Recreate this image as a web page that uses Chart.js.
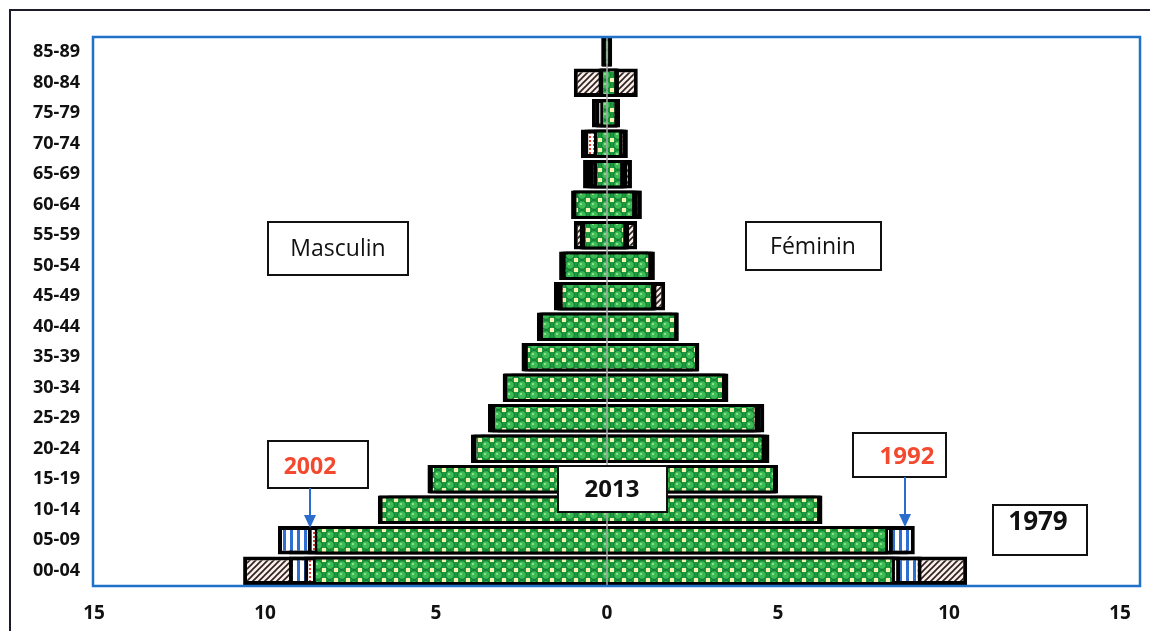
<!DOCTYPE html>
<html>
<head>
<meta charset="utf-8">
<script src="https://cdn.jsdelivr.net/npm/chart.js@4.4.1/dist/chart.umd.min.js"></script>
<style>
  html, body { margin: 0; padding: 0; background: #ffffff; }
  #wrap { width: 1150px; height: 631px; position: relative; }
</style>
</head>
<body>
<div id="wrap"><canvas id="c" width="1150" height="631"></canvas></div>
<script>
// ---------- DATA ----------
const ageGroups = ['85-89','80-84','75-79','70-74','65-69','60-64','55-59','50-54','45-49',
                   '40-44','35-39','30-34','25-29','20-24','15-19','10-14','05-09','00-04'];

const male2013   = [0.12, 0.20, 0.20, 0.38, 0.38, 0.98, 0.72, 1.29, 1.38, 1.96, 2.40, 3.00, 3.35, 3.90, 5.18, 6.65, 8.55, 8.60];
const female2013 = [0.12, 0.30, 0.30, 0.44, 0.47, 0.82, 0.56, 1.29, 1.37, 2.05, 2.66, 3.45, 4.40, 4.60, 4.94, 6.23, 8.22, 8.42];

const male2002   = [0.15, 0.22, 0.34, 0.66, 0.50, 1.00, 0.75, 1.35, 1.47, 2.00, 2.45, 3.02, 3.42, 3.94, 5.20, 6.67, 8.75, 8.85];
const female2002 = [0.14, 0.32, 0.34, 0.56, 0.52, 0.90, 0.60, 1.35, 1.42, 2.08, 2.68, 3.50, 4.50, 4.68, 4.97, 6.26, 8.36, 8.57];

const male1992   = [0.17, 0.25, 0.44, 0.76, 0.60, 1.00, 0.80, 1.40, 1.55, 2.05, 2.50, 3.05, 3.48, 3.98, 5.25, 6.70, 9.62, 9.30];
const female1992 = [0.15, 0.35, 0.38, 0.61, 0.60, 1.00, 0.65, 1.40, 1.45, 2.10, 2.70, 3.55, 4.60, 4.75, 5.00, 6.30, 9.00, 9.20];

const male1979   = [0.15, 0.97, 0.30, 0.56, 0.70, 1.05, 0.97, 1.20, 1.45, 1.90, 2.30, 2.80, 3.20, 3.70, 5.00, 6.40, 9.30, 10.64];
const female1979 = [0.15, 0.90, 0.30, 0.50, 0.73, 1.02, 0.88, 1.20, 1.70, 1.90, 2.50, 3.30, 4.30, 4.50, 4.80, 6.10, 8.80, 10.53];

const xTicks = [-15, -10, -5, 0, 5, 10, 15];

// ---------- PATTERNS ----------
function makePattern(w, h, draw) {
  const c = document.createElement('canvas');
  c.width = w; c.height = h;
  const g = c.getContext('2d');
  draw(g, w, h);
  return document.getElementById('c').getContext('2d').createPattern(c, 'repeat');
}
const patGreen = makePattern(12, 10, (g, w, h) => {
  g.fillStyle = '#1c9a40'; g.fillRect(0, 0, w, h);
  g.fillStyle = '#f6f1ae';
  [[-2, -2], [w - 2, -2], [-2, h - 2], [w - 2, h - 2]].forEach(p => g.fillRect(p[0], p[1], 4, 4));
  g.beginPath(); g.arc(6, 5, 4.3, 0, Math.PI * 2);
  g.fillStyle = '#3cbc55'; g.fill();
  g.lineWidth = 0.9; g.strokeStyle = '#0f7330'; g.stroke();
  g.fillStyle = '#8ee08a'; g.fillRect(4, 3, 2, 2);
});
const patHatch = makePattern(6, 6, (g, w, h) => {
  g.fillStyle = '#fbeee9'; g.fillRect(0, 0, w, h);
  g.strokeStyle = '#2a2020'; g.lineWidth = 1.6;
  g.beginPath();
  g.moveTo(-1, 7); g.lineTo(7, -1);
  g.moveTo(-4, 4); g.lineTo(4, -4);
  g.moveTo(2, 10); g.lineTo(10, 2);
  g.stroke();
});
const patBlue = makePattern(7, 4, (g, w, h) => {
  g.fillStyle = '#ffffff'; g.fillRect(0, 0, w, h);
  g.fillStyle = '#2f6fd2'; g.fillRect(3, 0, 3, h);
});
const patRed = makePattern(4, 4, (g, w, h) => {
  g.fillStyle = '#ffffff'; g.fillRect(0, 0, w, h);
  g.fillStyle = '#e8402a'; g.fillRect(1, 0, 2, 2);
});

function pairs(m, f) { return m.map((v, i) => [-v, f[i]]); }

// ---------- DECORATION PLUGIN ----------
const deco = {
  id: 'deco',
  afterDatasetsDraw(chart) {
    const ctx = chart.ctx, x = chart.scales.x, a = chart.chartArea;
    const x0 = x.getPixelForValue(0);
    ctx.save();
    ctx.strokeStyle = '#a8a8a8'; ctx.lineWidth = 1.5;
    ctx.beginPath(); ctx.moveTo(x0, a.top); ctx.lineTo(x0, a.bottom); ctx.stroke();
    ctx.restore();
  },
  afterDraw(chart) {
    const ctx = chart.ctx, a = chart.chartArea;
    ctx.save();
    ctx.strokeStyle = '#1b1b2a'; ctx.lineWidth = 2;
    ctx.beginPath(); ctx.moveTo(10, 631); ctx.lineTo(10, 10); ctx.lineTo(1150, 10); ctx.stroke();
    ctx.strokeStyle = '#1f72c8'; ctx.lineWidth = 2.5;
    ctx.strokeRect(a.left - 1, a.top, (a.right + 20) - (a.left - 1), a.bottom - a.top);

    function box(x1, y1, x2, y2, text, font, color, tx, ty) {
      ctx.fillStyle = '#ffffff';
      ctx.fillRect(x1, y1, x2 - x1, y2 - y1);
      ctx.strokeStyle = '#111111'; ctx.lineWidth = 2;
      ctx.strokeRect(x1, y1, x2 - x1, y2 - y1);
      ctx.fillStyle = color; ctx.font = font;
      ctx.textAlign = 'center'; ctx.textBaseline = 'middle';
      ctx.fillText(text, tx, ty);
    }
    function arrow(xx, y1, y2) {
      ctx.strokeStyle = '#2a6dcc'; ctx.fillStyle = '#2a6dcc'; ctx.lineWidth = 2;
      ctx.beginPath(); ctx.moveTo(xx, y1); ctx.lineTo(xx, y2 - 12); ctx.stroke();
      ctx.beginPath(); ctx.moveTo(xx - 6, y2 - 13); ctx.lineTo(xx + 6, y2 - 13); ctx.lineTo(xx, y2); ctx.closePath(); ctx.fill();
    }
    box(268, 222, 408, 275, 'Masculin', '23px "Open Sans"', '#111111', 338, 249);
    box(746, 222, 881, 270, 'Féminin', '23px "Open Sans"', '#111111', 813, 247);
    box(558, 466, 667, 512, '2013', 'bold 24px "Open Sans"', '#111111', 612, 490);
    box(268, 441, 368, 488, '2002', 'bold 23px "Open Sans"', '#f2492f', 310, 467);
    box(853, 433, 946, 477, '1992', 'bold 24px "Open Sans"', '#f2492f', 907, 457);
    box(993, 505, 1087, 555, '1979', 'bold 26px "Open Sans"', '#111111', 1038, 523);
    arrow(310, 488, 528);
    arrow(905, 477, 527);
    ctx.restore();
  }
};

function ds(label, data, bg, bw) {
  return { label, data, backgroundColor: bg, borderColor: '#000000', borderWidth: bw, borderSkipped: false,
           barPercentage: 0.93, categoryPercentage: 1.0, grouped: false };
}

new Chart(document.getElementById('c'), {
  type: 'bar',
  data: {
    labels: ageGroups,
    datasets: [
      ds('2013', pairs(male2013, female2013), patGreen, 3),
      ds('2002', pairs(male2002, female2002), patRed, 4),
      ds('1992', pairs(male1992, female1992), patBlue, 4),
      ds('1979', pairs(male1979, female1979), patHatch, 4)
    ]
  },
  options: {
    indexAxis: 'y',
    responsive: false,
    animation: false,
    devicePixelRatio: 1,
    layout: { padding: { left: 10, right: 30, top: 37, bottom: 0 } },
    plugins: { legend: { display: false }, tooltip: { enabled: false } },
    scales: {
      x: {
        type: 'linear', min: -15, max: 15,
        afterBuildTicks(s) { s.ticks = xTicks.map(v => ({ value: v })); },
        afterFit(s) { s.height = 45; },
        grid: { display: false, drawTicks: false },
        border: { display: false },
        ticks: { padding: 16, color: '#111111', font: { family: 'Open Sans', size: 19, weight: 'bold' },
                 callback: v => String(Math.abs(v)) }
      },
      y: {
        afterFit(s) { s.width = 84; },
        grid: { display: false, drawTicks: false },
        border: { display: false },
        ticks: { padding: 14, color: '#111111', font: { family: 'Open Sans', size: 18, weight: 'bold' } }
      }
    }
  },
  plugins: [deco]
});
</script>
</body>
</html>
